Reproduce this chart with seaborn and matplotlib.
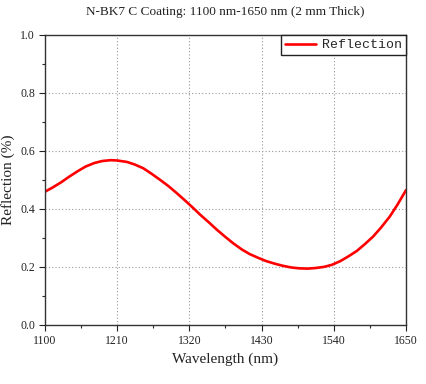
import numpy as np
import pandas as pd
import seaborn as sns
import matplotlib
matplotlib.use("Agg")
import matplotlib.pyplot as plt
from matplotlib.ticker import MultipleLocator

# values
wavelength = [1100, 1112, 1125, 1137, 1150, 1162, 1175, 1187, 1200, 1210, 1225, 1237,
              1250, 1262, 1275, 1288, 1300, 1312, 1325, 1337, 1350, 1362, 1375, 1387,
              1400, 1412, 1425, 1437, 1450, 1462, 1475, 1487, 1500, 1512, 1525, 1537,
              1550, 1562, 1575, 1587, 1600, 1612, 1625, 1637, 1650]
reflection = [0.459, 0.474, 0.492, 0.511, 0.530, 0.546, 0.558, 0.565, 0.568, 0.567, 0.562, 0.553,
              0.540, 0.522, 0.501, 0.479, 0.456, 0.432, 0.405, 0.379, 0.353, 0.328, 0.303, 0.281,
              0.260, 0.244, 0.231, 0.220, 0.211, 0.204, 0.198, 0.195, 0.194, 0.196, 0.200, 0.207,
              0.220, 0.236, 0.255, 0.278, 0.305, 0.336, 0.373, 0.415, 0.465]

df = pd.DataFrame({"Wavelength": wavelength, "Reflection": reflection})

sns.set_style("ticks")
plt.rcParams['font.family'] = ['Liberation Serif', 'DejaVu Serif']

fig = plt.figure(figsize=(4.27, 3.84), dpi=100)
ax = fig.add_axes([0.105, 0.154, 0.846, 0.755])

sns.lineplot(data=df, x="Wavelength", y="Reflection", color="#ff0000",
             linewidth=1.9, label="Reflection", ax=ax)

ax.set_xlim(1100, 1650)
ax.set_ylim(0, 1.0)
ax.set_xticks([1100, 1210, 1320, 1430, 1540, 1650])
ax.set_yticks([0.0, 0.2, 0.4, 0.6, 0.8, 1.0])
ax.set_yticklabels(["0.0", "0.2", "0.4", "0.6", "0.8", "1.0"])
ax.xaxis.set_minor_locator(MultipleLocator(55))
ax.yaxis.set_minor_locator(MultipleLocator(0.1))
ax.tick_params(which="major", direction="out", length=4, width=0.8,
               labelsize=8.5, colors="#222222", pad=3)
ax.tick_params(which="minor", direction="out", length=2.5, width=0.8)
ax.grid(True, which="major", linestyle=(0, (1, 2)), color="#999999", linewidth=0.8)

for s in ax.spines.values():
    s.set_visible(True)
    s.set_color("#333333")
    s.set_linewidth(1.0)

ax.set_xlabel("Wavelength (nm)", fontsize=11, color="#222222")
ax.set_ylabel("Reflection (%)", fontsize=11, color="#222222")
ax.set_title("N-BK7 C Coating: 1100 nm-1650 nm (2 mm Thick)", fontsize=9.5,
             color="#222222", pad=14)

leg = ax.legend(loc="upper right", borderaxespad=0, fancybox=False,
                framealpha=1, edgecolor="#222222", handlelength=2.3,
                handletextpad=0.5, borderpad=0.3,
                prop={"family": "Liberation Mono", "size": 9.5})
leg.get_frame().set_linewidth(1.0)

fig.savefig("out.png", dpi=100)
